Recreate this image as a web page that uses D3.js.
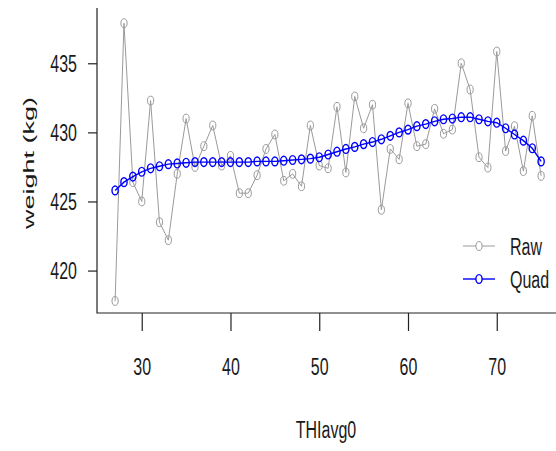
<!DOCTYPE html>
<html>
<head>
<meta charset="utf-8" />
<title>weight vs THIavg0</title>
<script src="https://d3js.org/d3.v7.min.js"></script>
<style>
body { margin: 0; background: #fff; }
text { font-family: "Liberation Sans", Arial, sans-serif; fill: #1a1a1a; }
.axis path, .axis line { stroke: #222; stroke-width: 1.2; }
</style>
</head>
<body>
<div id="viz"></div>
<script>

// data
var thi = [27,28,29,30,31,32,33,34,35,36,37,38,39,40,41,42,43,44,45,46,47,48,49,50,51,
           52,53,54,55,56,57,58,59,60,61,62,63,64,65,66,67,68,69,70,71,72,73,74,75];

var raw = [417.8,437.9,426.4,425.0,432.3,423.5,422.2,427.0,431.0,427.5,429.0,430.5,427.6,428.3,425.6,425.6,
           426.9,428.8,429.85,426.5,427.0,426.1,430.5,427.6,427.4,431.85,427.1,432.6,430.3,432.0,424.4,
           428.8,428.05,432.1,429.0,429.15,431.7,429.9,430.2,435.0,433.1,428.2,427.45,435.85,428.65,
           430.45,427.2,431.2,426.85];

var quad = [425.8,426.4,426.8,427.15,427.4,427.55,427.7,427.75,427.8,427.85,427.85,427.85,427.85,427.85,
            427.85,427.85,427.9,427.9,427.9,427.95,428.0,428.05,428.1,428.2,428.4,428.6,428.8,428.95,
            429.15,429.3,429.5,429.75,430.0,430.2,430.45,430.6,430.8,430.95,431.0,431.1,431.1,430.95,
            430.8,430.7,430.3,429.85,429.4,428.85,427.9];

var xTicks = [30, 40, 50, 60, 70];
var yTicks = [420, 425, 430, 435];

var seriesNames = ["Raw", "Quad"];
var seriesColors = ["#9a9a9a", "#0000ff"];

var width = 556, height = 451;
var stretch = 1.55;   // the picture is stretched vertically

var svg = d3.select("#viz").append("svg")
    .attr("width", width)
    .attr("height", height);

var x = d3.scaleLinear().domain([24.96, 76.9]).range([97, 558]);
var y = d3.scaleLinear().domain([416.93, 439.0]).range([313, 8]);

// L shaped frame
svg.append("path")
    .attr("d", "M97,8V313H556")
    .attr("fill", "none")
    .attr("stroke", "#222")
    .attr("stroke-width", 1.2);

var yAxis = svg.append("g")
    .attr("class", "axis")
    .attr("transform", "translate(97,0)")
    .call(d3.axisLeft(y).tickValues(yTicks).tickSize(9).tickPadding(11).tickSizeOuter(0));
yAxis.select(".domain").remove();
yAxis.selectAll("text")
    .attr("font-size", 16)
    .attr("transform", "scale(1," + stretch + ")");

var xAxis = svg.append("g")
    .attr("class", "axis")
    .attr("transform", "translate(0,313)")
    .call(d3.axisBottom(x).tickValues(xTicks).tickSize(18).tickSizeOuter(0));
xAxis.select(".domain").remove();
xAxis.selectAll("text")
    .attr("font-size", 16)
    .attr("y", 0)
    .attr("dy", 0)
    .attr("transform", "translate(0,62) scale(1," + stretch + ")");

// axis titles
svg.append("text")
    .attr("text-anchor", "middle")
    .attr("font-size", 15)
    .attr("transform", "translate(34,163) scale(1,1.8) rotate(-90)")
    .text("weight (kg)");

svg.append("text")
    .attr("text-anchor", "middle")
    .attr("font-size", 16)
    .attr("transform", "translate(326,438) scale(1," + stretch + ")")
    .text("THIavg0");

var line = d3.line()
    .x(function(d) { return x(d[0]); })
    .y(function(d) { return y(d[1]); });

function drawSeries(vals, color, lw) {
  var pts = thi.map(function(t, i) { return [t, vals[i]]; });
  svg.append("path")
      .datum(pts)
      .attr("d", line)
      .attr("fill", "none")
      .attr("stroke", color)
      .attr("stroke-width", lw);
  svg.append("g").selectAll("ellipse")
    .data(pts)
    .enter().append("ellipse")
      .attr("cx", function(d) { return x(d[0]); })
      .attr("cy", function(d) { return y(d[1]); })
      .attr("rx", 3.1)
      .attr("ry", 4.4)
      .attr("fill", "none")
      .attr("stroke", color)
      .attr("stroke-width", lw);
}

drawSeries(raw, seriesColors[0], 1);
drawSeries(quad, seriesColors[1], 1.4);

// legend
var legend = svg.append("g");
seriesNames.forEach(function(name, i) {
  var ly = 246 + i * 33;
  legend.append("line")
      .attr("x1", 463).attr("x2", 495)
      .attr("y1", ly).attr("y2", ly)
      .attr("stroke", seriesColors[i])
      .attr("stroke-width", i ? 1.4 : 1);
  legend.append("ellipse")
      .attr("cx", 479).attr("cy", ly)
      .attr("rx", 3.1).attr("ry", 4.4)
      .attr("fill", "#fff")
      .attr("stroke", seriesColors[i])
      .attr("stroke-width", i ? 1.4 : 1);
  legend.append("text")
      .attr("font-size", 16)
      .attr("transform", "translate(510," + (ly + 9) + ") scale(1," + stretch + ")")
      .text(name);
});

</script>
</body>
</html>
